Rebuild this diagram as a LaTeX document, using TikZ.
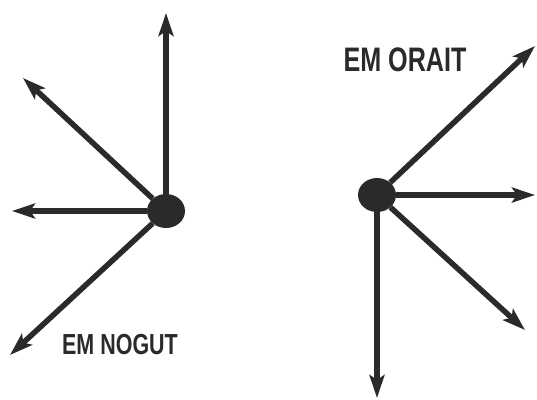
\documentclass[tikz,border=0pt]{standalone}
\usepackage{fontspec}
\newfontfamily\labelfont[FakeStretch=0.74]{Liberation Sans Bold}
\usetikzlibrary{positioning,arrows.meta,shapes.geometric}
\definecolor{ink}{HTML}{2A2A2A}

\begin{document}
\begin{tikzpicture}[
    x=1pt, y=-1pt,
    every node/.style={align=center},
    hub/.style={
        ellipse, fill=ink,
        minimum width=38pt,
        minimum height=34pt,
        inner sep=0pt
    },
    arrow/.style={
        -{Stealth[length=23pt,width=15pt,inset=5pt]},
        line width=5.5pt,
        draw=ink
    },
    caption/.style={
        text=ink,
        font=\labelfont
    }
]
\useasboundingbox (0,0) rectangle (537,399);

\node[hub] (left) at (166,211) {};
\node[hub] (right) at (377,195) {};

\coordinate (lup) at (166,13);
\coordinate (lupleft) at (23,78);
\coordinate (lleft) at (12,211);
\coordinate (ldownleft) at (10,355);

\coordinate (rupright) at (535,46);
\coordinate (rright) at (535,195);
\coordinate (rdownright) at (525,330);
\coordinate (rdown) at (377,398);

\node[caption, font=\labelfont\fontsize{29}{33}\selectfont] (nogut) at (120,345) {EM NOGUT};
\node[caption, font=\labelfont\fontsize{34}{38}\selectfont] (orait) at (405,60) {EM ORAIT};

\draw[arrow] (left) -- (lup);
\draw[arrow] (left) -- (lupleft);
\draw[arrow] (left) -- (lleft);
\draw[arrow] (left) -- (ldownleft);

\draw[arrow] (right) -- (rupright);
\draw[arrow] (right) -- (rright);
\draw[arrow] (right) -- (rdownright);
\draw[arrow] (right) -- (rdown);

\end{tikzpicture}
\end{document}
